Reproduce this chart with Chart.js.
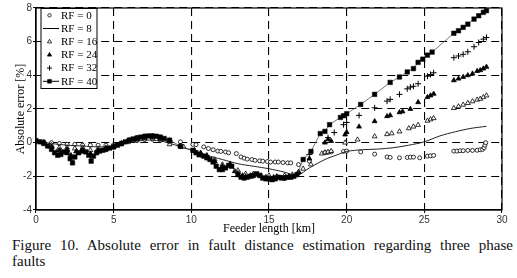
<!DOCTYPE html>
<html>
<head>
<meta charset="utf-8">
<script src="https://cdn.jsdelivr.net/npm/chart.js@4.4.1/dist/chart.umd.min.js"></script>
<style>
  body { margin: 0; background: #fff; }
  #wrap { position: absolute; left: 0; top: 0; width: 517px; height: 236px; }
  .cap { position: absolute; left: 12px; width: 501px; font-family: "Liberation Serif", serif; font-size: 15px; line-height: 16px; color: #111; }
  #cap1 { top: 237px; text-align: justify; text-align-last: justify; }
  #cap2 { top: 253px; }
</style>
</head>
<body>
<div id="wrap"><canvas id="chart"></canvas></div>
<div class="cap" id="cap1">Figure 10. Absolute error in fault distance estimation regarding three phase</div>
<div class="cap" id="cap2">faults</div>
<script>
// values: feeder length [km] and absolute error [%]
const rf0Km = [0, 0.5, 1, 1.5, 2, 2.5, 3, 3.5, 4, 4.5, 5, 5.5, 6, 6.5, 7, 7.5, 8, 8.5, 9.3, 10.1, 10.3, 10.8, 11.1, 11.4, 11.7, 11.9, 12.2, 12.4, 12.9, 13.2, 13.4, 13.6, 13.9, 14.1, 14.4, 14.6, 14.9, 15.1, 15.4, 15.6, 15.9, 16.2, 16.4, 16.9, 17.6, 18.6, 18.8, 19.0, 19.8, 20.0, 20.9, 21.8, 22.6, 22.8, 23.4, 23.9, 24.1, 24.3, 24.7, 25.2, 25.4, 25.6, 26.9, 27.1, 27.3, 27.5, 27.8, 28.1, 28.4, 28.6, 28.75, 28.85, 28.9, 28.95];
const rf0Err = [0.1, 0.05, 0, -0.05, -0.1, -0.1, -0.15, -0.15, -0.15, -0.15, -0.12, -0.05, 0.05, 0.12, 0.18, 0.2, 0.15, 0.1,
  0.05, -0.1, -0.12, -0.25, -0.35, -0.42, -0.5, -0.52, -0.55, -0.6,
  -0.65, -0.85, -0.92, -0.98, -1.0, -1.05, -1.08, -1.1, -1.12, -1.15, -1.15, -1.15, -1.18, -1.2, -1.2,
  -1.3, -1.1, -0.6, -0.58, -0.55, -0.52, -0.5, -0.55, -0.68, -0.85, -0.88, -0.9, -0.88, -0.86, -0.86, -0.9, -0.8, -0.78, -0.76,
  -0.5, -0.5, -0.48, -0.48, -0.46, -0.46, -0.45, -0.42, -0.4, -0.3, -0.15, 0.0];

const rf8Km = [0, 1, 2, 3, 4, 5, 6, 7, 8, 9, 10, 11, 12, 13, 14, 15, 16, 16.8, 17.6, 18.6, 19.4, 20, 21, 22, 23, 24, 25, 26, 27, 28, 29];
const rf8Err = [0.1, -0.05, -0.15, -0.2, -0.25, -0.2, 0, 0.15, 0.1, -0.15, -0.45, -0.75, -1.0, -1.25, -1.4, -1.55, -1.75, -1.95, -1.5, -1.0, -0.72, -0.52, -0.42, -0.38, -0.3, -0.15, 0.05, 0.4, 0.65, 0.85, 0.97];

const rf16Km = [0, 0.5, 1, 1.5, 2, 2.5, 3, 3.5, 4, 4.5, 5, 5.5, 6, 6.5, 7, 7.5, 8, 8.6, 9.5, 10.2, 10.6, 11, 11.5, 12, 12.5, 13, 13.5, 14, 14.5, 15, 15.5, 16, 16.5, 16.9, 17.2, 17.7, 18.4, 18.6, 18.8, 19.0, 19.9, 20.7, 21.8, 22.6, 22.9, 23.4, 24.0, 24.3, 24.6, 25.2, 25.4, 25.6, 26.9, 27.2, 27.5, 27.8, 28.1, 28.4, 28.6, 28.8, 29.0];
const rf16Err = [0.1, 0, -0.15, -0.3, -0.3, -0.35, -0.3, -0.45, -0.35, -0.3, -0.2, -0.05, 0.1, 0.2, 0.28, 0.3, 0.22,
  -0.1, -0.25, -0.45, -0.6, -0.75, -1.0, -1.3, -1.25, -1.65, -1.85, -1.85, -1.95, -1.95, -2.0, -1.95, -1.9, -1.75,
  -1.55, -1.3, -0.65, -0.58, -0.55, -0.5, 0.0, 0.18, 0.37, 0.5, 0.55, 0.66, 0.85, 0.95, 1.05, 1.3, 1.38, 1.45,
  2.05, 2.15, 2.25, 2.35, 2.45, 2.55, 2.6, 2.7, 2.8];

const rf24Km = [0, 0.5, 1, 1.5, 2, 2.25, 2.6, 3, 3.5, 4, 4.5, 5, 5.5, 6, 6.5, 7, 7.5, 8, 8.6, 9.3, 10.2, 10.6, 11, 11.5, 12, 12.5, 12.8, 13.3, 13.8, 14.3, 14.8, 15.3, 15.8, 16.3, 16.9, 17.6, 18.6, 18.8, 19.0, 19.9, 20.0, 20.8, 21.8, 22.6, 22.8, 23.4, 23.6, 24.1, 24.6, 25.2, 25.4, 25.6, 26.9, 27.2, 27.5, 27.8, 28.1, 28.4, 28.6, 28.8, 29.0];
const rf24Err = [0.1, 0, -0.25, -0.45, -0.4, -0.75, -0.5, -0.4, -0.65, -0.45, -0.35, -0.25, -0.05, 0.12, 0.25, 0.33, 0.35, 0.28, 0.1, -0.2,
  -0.5, -0.65, -0.8, -1.1, -1.4, -1.3, -1.7, -1.95, -1.95, -1.9, -2.05, -2.05, -2.1, -2.0, -1.75,
  -0.95, 0.0, 0.2, 0.1, 0.48, 0.62, 0.95, 1.27, 1.57, 1.62, 1.8, 1.85, 2.0, 2.4, 2.7, 2.8, 2.9,
  3.7, 3.8, 3.9, 4.0, 4.1, 4.25, 4.3, 4.4, 4.5];

const rf32Km = [0, 0.5, 1, 1.3, 1.6, 2, 2.25, 2.6, 3, 3.5, 4, 4.5, 5, 5.5, 6, 6.5, 7, 7.5, 8, 8.6, 9.3, 10.2, 10.6, 11, 11.5, 12, 12.5, 13, 13.5, 14, 14.5, 15, 15.5, 16, 16.5, 16.9, 17.6, 18.8, 19.2, 19.8, 20.0, 20.8, 21.8, 22.6, 22.8, 23.4, 23.9, 24.1, 24.3, 24.6, 25.2, 25.4, 25.6, 26.9, 27.2, 27.5, 27.8, 28.2, 28.5, 28.8, 29.0];
const rf32Err = [0.1, 0, -0.3, -0.55, -0.5, -0.5, -0.9, -0.6, -0.45, -0.8, -0.5, -0.38, -0.25, -0.05, 0.15, 0.28, 0.35, 0.38, 0.3, 0.12, -0.2,
  -0.55, -0.7, -0.85, -1.2, -1.5, -1.35, -1.8, -2.0, -1.95, -2.05, -2.1, -2.05, -2.1, -2.0, -1.8,
  -0.7, 0.3, 0.6, 1.07, 1.2, 1.62, 2.07, 2.47, 2.57, 2.87, 3.2, 3.3, 3.35, 3.5, 3.95, 4.05, 4.15,
  5.05, 5.15, 5.25, 5.4, 5.7, 5.95, 6.15, 6.25];

const rf40Km = [0, 0.25, 0.5, 0.75, 1.0, 1.2, 1.4, 1.6, 1.8, 2.0, 2.2, 2.35, 2.5, 2.75, 3.0, 3.2, 3.4, 3.55, 3.7, 3.9, 4.1, 4.3, 4.5, 4.75, 5.0, 5.25, 5.5, 5.75, 6.0, 6.25, 6.5, 6.75, 7.0, 7.25, 7.5, 7.75, 8.0, 8.25, 8.6, 9.3, 10.1, 10.3, 10.5, 10.8, 11.0, 11.2, 11.4, 11.6, 11.8, 12.0, 12.2, 12.4, 12.6, 13.0, 13.2, 13.4, 13.6, 13.8, 14.0, 14.2, 14.4, 14.6, 14.8, 15.0, 15.2, 15.4, 15.6, 15.8, 16.0, 16.2, 16.4, 16.6, 16.8, 17.2, 17.7, 18.3, 18.6, 18.9, 19.6, 19.8, 20.0, 20.9, 21.8, 22.8, 23.4, 23.9, 24.3, 24.6, 24.9, 25.2, 25.5, 26.9, 27.2, 27.5, 27.8, 28.2, 28.5, 28.8, 29.0];
const rf40Err = [0.12, 0.05, -0.05, -0.2, -0.4, -0.6, -0.75, -0.7, -0.55, -0.6,
  -0.95, -1.2, -0.85, -0.6, -0.5, -0.55, -0.75, -1.1, -0.8, -0.6,
  -0.5, -0.45, -0.4, -0.32, -0.25, -0.15, -0.05, 0.05, 0.15, 0.22, 0.28, 0.33,
  0.38, 0.4, 0.4, 0.38, 0.33, 0.25, 0.15, -0.22,
  -0.45, -0.6, -0.72, -0.8, -0.9, -1.0, -1.15, -1.4, -1.6, -1.6, -1.5, -1.35, -1.4,
  -1.9, -2.05, -2.1, -2.05, -2.0, -1.95, -1.85, -1.95, -2.1, -2.15,
  -2.15, -2.2, -2.15, -2.05, -2.1, -2.1, -2.05, -2.05, -2.0, -1.9,
  -1.0, -0.52, 0.54, 0.67, 1.07, 1.5, 1.6, 1.72,
  2.27, 2.87, 3.58, 3.9, 4.2, 4.4, 4.77, 4.96, 5.2, 5.38,
  6.5, 6.65, 6.85, 7.04, 7.34, 7.54, 7.74, 7.84];

const xTicks = [0, 5, 10, 15, 20, 25, 30];
const yTicks = [-4, -2, 0, 2, 4, 6, 8];

function pts(km, err) {
  return km.map((x, i) => ({ x: x, y: err[i] }));
}

// legend drawn inside the plot, boxed, like the figure
const boxLegend = {
  id: 'boxLegend',
  afterDraw(chart) {
    const ctx = chart.ctx;
    const a = chart.chartArea;
    const x0 = a.left + 5, y0 = a.top + 0.5;
    ctx.save();
    ctx.fillStyle = '#fff';
    ctx.fillRect(x0, y0, 56, 80);
    ctx.strokeStyle = '#000';
    ctx.lineWidth = 1;
    ctx.strokeRect(x0, y0, 56, 80);
    chart.data.datasets.forEach((ds, i) => {
      const y = a.top + 7.3 + i * 13.2;
      const mx = a.left + 13.5;
      if (ds.showLine) {
        ctx.strokeStyle = '#000';
        ctx.lineWidth = 1;
        ctx.beginPath();
        ctx.moveTo(a.left + 7, y);
        ctx.lineTo(a.left + 23, y);
        ctx.stroke();
      }
      if (ds.pointRadius > 0) {
        ctx.fillStyle = ds.pointBackgroundColor;
        ctx.strokeStyle = '#000';
        ctx.lineWidth = ds.pointBorderWidth;
        Chart.helpers.drawPoint(ctx, { pointStyle: ds.pointStyle, radius: ds.pointRadius * 0.85, rotation: 0, borderWidth: ds.pointBorderWidth }, mx, y);
      }
      ctx.fillStyle = '#000';
      ctx.font = '11px "Liberation Serif"';
      ctx.textBaseline = 'middle';
      ctx.textAlign = 'left';
      ctx.fillText(ds.label, a.left + 25, y + 0.5);
    });
    ctx.restore();
  }
};

const frame = {
  id: 'frame',
  afterDatasetsDraw(chart) {
    const ctx = chart.ctx;
    const a = chart.chartArea;
    ctx.save();
    ctx.strokeStyle = '#000';
    ctx.lineWidth = 1.2;
    ctx.strokeRect(a.left, a.top, a.right - a.left, a.bottom - a.top);
    ctx.restore();
  }
};

const tickFont = { family: 'Liberation Sans', size: 10 };
const titleFont = { family: 'Liberation Serif', size: 12 };

const chart = new Chart(document.getElementById('chart'), {
  type: 'scatter',
  data: {
    datasets: [
      { label: 'RF = 0', data: pts(rf0Km, rf0Err), showLine: false, pointStyle: 'circle', pointRadius: 2,
        pointBorderWidth: 0.8, pointBorderColor: '#000', pointBackgroundColor: '#fff', order: 6 },
      { label: 'RF = 8', data: pts(rf8Km, rf8Err), showLine: true, pointRadius: 0, borderColor: '#222',
        borderWidth: 1, tension: 0.3, order: 5 },
      { label: 'RF = 16', data: pts(rf16Km, rf16Err), showLine: false, pointStyle: 'triangle', pointRadius: 2.8,
        pointBorderWidth: 0.8, pointBorderColor: '#000', pointBackgroundColor: '#fff', order: 4 },
      { label: 'RF = 24', data: pts(rf24Km, rf24Err), showLine: false, pointStyle: 'triangle', pointRadius: 2.8,
        pointBorderWidth: 0.8, pointBorderColor: '#000', pointBackgroundColor: '#000', order: 3 },
      { label: 'RF = 32', data: pts(rf32Km, rf32Err), showLine: false, pointStyle: 'cross', pointRadius: 3,
        pointBorderWidth: 1, pointBorderColor: '#000', pointBackgroundColor: '#000', order: 2 },
      { label: 'RF = 40', data: pts(rf40Km, rf40Err), showLine: true, pointStyle: 'rect', pointRadius: 3.2,
        borderColor: '#555', borderWidth: 0.8, pointBorderWidth: 0.5, pointBorderColor: '#000',
        pointBackgroundColor: '#000', order: 1 }
    ]
  },
  options: {
    animation: false,
    responsive: true,
    maintainAspectRatio: false,
    events: [],
    layout: { padding: { left: 0, right: 15, top: 8, bottom: 0 } },
    plugins: {
      legend: { display: false },
      tooltip: { enabled: false }
    },
    scales: {
      x: {
        type: 'linear',
        min: 0,
        max: 30,
        afterBuildTicks: (scale) => { scale.ticks = xTicks.map(v => ({ value: v })); },
        afterFit: (scale) => { scale.height = 26; },
        ticks: { color: '#333', font: tickFont, padding: 1, maxRotation: 0 },
        grid: { color: '#000', lineWidth: 1.1, tickLength: 3, tickColor: '#000', tickWidth: 1 },
        border: { display: true, color: '#000', width: 1.2, dash: [8, 5] },
        title: { display: true, text: 'Feeder length [km]', color: '#000', font: titleFont, padding: { top: 0, bottom: 0 } }
      },
      y: {
        type: 'linear',
        min: -4,
        max: 8,
        afterBuildTicks: (scale) => { scale.ticks = yTicks.map(v => ({ value: v })); },
        afterFit: (scale) => { scale.width = 36; },
        ticks: { color: '#333', font: tickFont, padding: 1 },
        grid: { color: '#000', lineWidth: 1.1, tickLength: 3, tickColor: '#000', tickWidth: 1 },
        border: { display: true, color: '#000', width: 1.2, dash: [8, 5] },
        title: { display: true, text: 'Absolute error [%]', color: '#000', font: titleFont, padding: { top: 13.5, bottom: 0 } }
      }
    }
  },
  plugins: [frame, boxLegend]
});
</script>
</body>
</html>
